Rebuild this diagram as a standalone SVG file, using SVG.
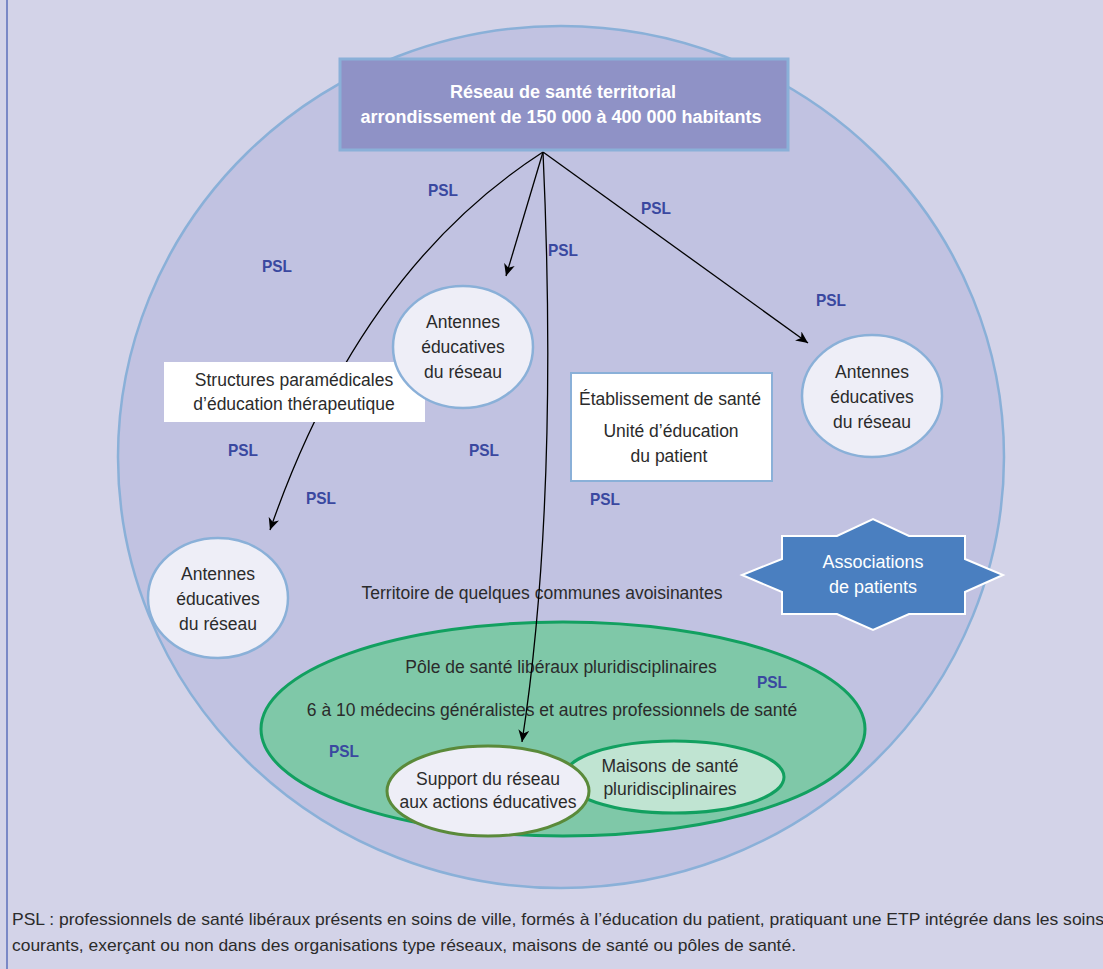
<svg xmlns="http://www.w3.org/2000/svg" width="1103" height="969" viewBox="0 0 1103 969">
<defs>
<marker id="ah" markerUnits="userSpaceOnUse" markerWidth="13" markerHeight="11" refX="12" refY="5.5" orient="auto">
<path d="M0,0 L12,5.5 L0,11 L3.5,5.5 z" fill="#000"/>
</marker>
</defs>
<style>
text{font-family:"Liberation Sans",Arial,sans-serif}
.t{font-size:17.5px;fill:#2b2b2b;text-anchor:middle}
.psl{font-size:17px;font-weight:bold;fill:#3a48a0;text-anchor:middle}
.w{font-size:18px;font-weight:bold;fill:#fff;text-anchor:middle}
.wa{font-size:18px;fill:#fff;text-anchor:middle}
.ant{fill:#eeeef7;stroke:#8ab0d8;stroke-width:2.5}
.con{fill:none;stroke:#000;stroke-width:1.3;marker-end:url(#ah)}
.foot{font-size:17px;fill:#2b2b2b}
</style>
<rect width="1103" height="969" fill="#d3d3e8"/>
<line x1="7" y1="0" x2="7" y2="969" stroke="#5468b8" stroke-width="1.4"/>
<g id="territoire">
<ellipse cx="561" cy="457" rx="443" ry="431" fill="#c1c2e1" stroke="#8ab0d8" stroke-width="2.5"/>
<text class="t" x="542" y="599">Territoire de quelques communes avoisinantes</text>
</g>
<g id="pole">
<ellipse cx="563" cy="729" rx="302" ry="107" fill="#7fc8a8" stroke="#12a060" stroke-width="3"/>
<text class="t" x="561" y="673">Pôle de santé libéraux pluridisciplinaires</text>
<text class="t" x="552" y="716">6 à 10 médecins généralistes et autres professionnels de santé</text>
</g>
<g id="maisons">
<ellipse cx="674" cy="777" rx="110" ry="36" fill="#c0e4d2" stroke="#12a060" stroke-width="3"/>
<text class="t" x="670" y="772">Maisons de santé</text>
<text class="t" x="670" y="795">pluridisciplinaires</text>
</g>
<g id="support">
<ellipse cx="488" cy="791" rx="101" ry="45" fill="#eeeef7" stroke="#5a8a3a" stroke-width="3"/>
<text class="t" x="488" y="785">Support du réseau</text>
<text class="t" x="488" y="808">aux actions éducatives</text>
</g>
<g id="connectors">
<path class="con" d="M543,152 Q360,270 270,530"/>
<path class="con" d="M543,152 L506,276"/>
<path class="con" d="M543,152 C552,350 550,560 522,742"/>
<path class="con" d="M543,152 L808,343"/>
</g>
<g id="reseau">
<rect x="340" y="59" width="448" height="91" fill="#8f92c6" stroke="#8ab0d8" stroke-width="3"/>
<text class="w" x="563" y="98">Réseau de santé territorial</text>
<text class="w" x="561" y="123">arrondissement de 150 000 à 400 000 habitants</text>
</g>
<g id="structures">
<rect x="164" y="362" width="261" height="60" fill="#fff"/>
<text class="t" x="294" y="386">Structures paramédicales</text>
<text class="t" x="294" y="410">d’éducation thérapeutique</text>
</g>
<g id="antenne1">
<ellipse class="ant" cx="463" cy="347" rx="70" ry="61"/>
<text class="t" x="463" y="328">Antennes</text>
<text class="t" x="463" y="353">éducatives</text>
<text class="t" x="463" y="378">du réseau</text>
</g>
<g id="antenne2">
<ellipse class="ant" cx="872" cy="396" rx="70" ry="61"/>
<text class="t" x="872" y="378">Antennes</text>
<text class="t" x="872" y="403">éducatives</text>
<text class="t" x="872" y="428">du réseau</text>
</g>
<g id="antenne3">
<ellipse class="ant" cx="218" cy="598" rx="70" ry="60"/>
<text class="t" x="218" y="580">Antennes</text>
<text class="t" x="218" y="605">éducatives</text>
<text class="t" x="218" y="630">du réseau</text>
</g>
<g id="etablissement">
<rect x="571" y="373" width="201" height="108" fill="#fff" stroke="#8ab0d8" stroke-width="2"/>
<text class="t" x="670" y="405">Établissement de santé</text>
<text class="t" x="671" y="437">Unité d’éducation</text>
<text class="t" x="669" y="462">du patient</text>
</g>
<g id="associations">
<polygon points="782,536 837,536 873,519 909,536 965,536 965,559 1003,575 965,592 965,614 909,614 873,630 837,614 782,614 782,592 742,575 782,559" fill="#4a7fc0" stroke="#fff" stroke-width="2"/>
<text class="wa" x="873" y="568">Associations</text>
<text class="wa" x="873" y="593">de patients</text>
</g>
<g id="psl-labels">
<text class="psl" x="443" y="196" textLength="30" lengthAdjust="spacingAndGlyphs">PSL</text>
<text class="psl" x="277" y="272" textLength="30" lengthAdjust="spacingAndGlyphs">PSL</text>
<text class="psl" x="563" y="256" textLength="30" lengthAdjust="spacingAndGlyphs">PSL</text>
<text class="psl" x="656" y="214" textLength="30" lengthAdjust="spacingAndGlyphs">PSL</text>
<text class="psl" x="831" y="306" textLength="30" lengthAdjust="spacingAndGlyphs">PSL</text>
<text class="psl" x="243" y="456" textLength="30" lengthAdjust="spacingAndGlyphs">PSL</text>
<text class="psl" x="484" y="456" textLength="30" lengthAdjust="spacingAndGlyphs">PSL</text>
<text class="psl" x="321" y="504" textLength="30" lengthAdjust="spacingAndGlyphs">PSL</text>
<text class="psl" x="605" y="505" textLength="30" lengthAdjust="spacingAndGlyphs">PSL</text>
<text class="psl" x="772" y="688" textLength="30" lengthAdjust="spacingAndGlyphs">PSL</text>
<text class="psl" x="344" y="757" textLength="30" lengthAdjust="spacingAndGlyphs">PSL</text>
</g>
<g id="legende">
<text class="foot" x="12" y="925" textLength="1092" lengthAdjust="spacingAndGlyphs">PSL : professionnels de santé libéraux présents en soins de ville, formés à l’éducation du patient, pratiquant une ETP intégrée dans les soins</text>
<text class="foot" x="12" y="951" textLength="784" lengthAdjust="spacingAndGlyphs">courants, exerçant ou non dans des organisations type réseaux, maisons de santé ou pôles de santé.</text>
</g>
</svg>
